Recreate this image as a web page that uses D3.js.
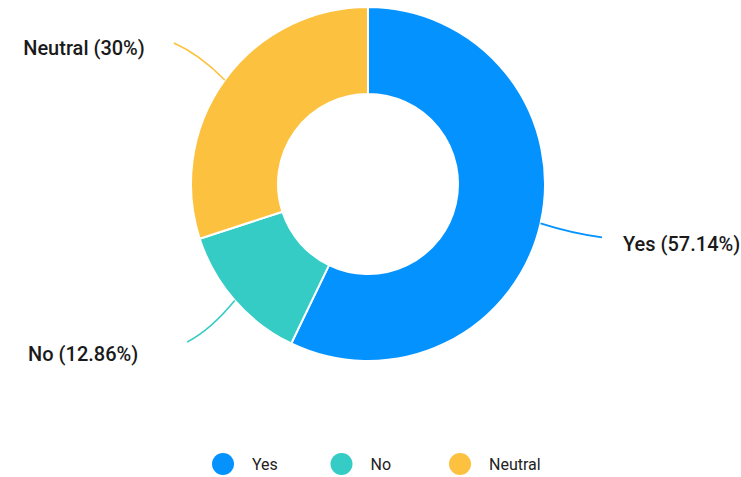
<!DOCTYPE html>
<html>
<head>
<meta charset="utf-8">
<script src="https://cdn.jsdelivr.net/npm/d3@7/dist/d3.min.js"></script>
<style>
  html, body { margin: 0; padding: 0; background: #fff; }
  svg { display: block; }
</style>
</head>
<body>
<svg id="chart" width="741" height="477"></svg>
<script>
// Survey answers and their shares (percent)
const categories = ["Yes", "No", "Neutral"];
const shares = [57.14, 12.86, 30];
const colors = ["#0492ff", "#34ccc4", "#fcc13e"];

// Layout
const W = 741, H = 477;
const cx = 368, cy = 184;
const outerR = 177, innerR = 90;
const lineEndR = 240;
// horizontal / vertical nudge of each outside label from its leader-line end
const labelNudge = { "Yes": [21, 7], "No": [-49, 12], "Neutral": [-29, 5] };

const svg = d3.select("#chart");

const data = categories.map((c, i) => ({ name: c, value: shares[i], color: colors[i] }));

const pie = d3.pie().value(d => d.value).sort(null);
const arcs = pie(data);
const arc = d3.arc().innerRadius(innerR).outerRadius(outerR);

const g = svg.append("g").attr("transform", `translate(${cx},${cy})`);

g.selectAll("path.slice")
  .data(arcs)
  .join("path")
  .attr("class", "slice")
  .attr("d", arc)
  .attr("fill", d => d.data.color)
  .attr("stroke", "#fff")
  .attr("stroke-width", 2);

// point at radius r along angle a (d3 angles: 0 at 12 o'clock, clockwise)
const polar = (a, r) => [r * Math.sin(a), -r * Math.cos(a)];

arcs.forEach(d => {
  const mid = (d.startAngle + d.endAngle) / 2;
  const p0 = polar(mid, outerR);
  const p1 = polar(mid, lineEndR);
  // control point: flattens the line as it approaches the label
  const c = [(p0[0] + p1[0]) / 2, p0[1] + (p1[1] - p0[1]) * 0.7];
  const path = d3.path();
  path.moveTo(p0[0], p0[1]);
  path.quadraticCurveTo(c[0], c[1], p1[0], p1[1]);
  g.append("path")
    .attr("d", path.toString())
    .attr("fill", "none")
    .attr("stroke", d.data.color)
    .attr("stroke-width", 1.6);

  const right = p1[0] > 0;
  const nudge = labelNudge[d.data.name];
  g.append("text")
    .attr("x", p1[0] + nudge[0])
    .attr("y", p1[1] + nudge[1])
    .attr("text-anchor", right ? "start" : "end")
    .attr("dominant-baseline", "central")
    .attr("font-family", "Roboto, 'Liberation Sans', sans-serif")
    .attr("font-weight", 500)
    .attr("font-size", 20)
    .attr("fill", "#1a1a1a")
    .text(`${d.data.name} (${d.data.value}%)`);
});

// Legend
const legendX = d3.scalePoint().domain(categories).range([223, 460]);
const legendY = 464;
const lg = svg.append("g");
const items = lg.selectAll("g.item")
  .data(data)
  .join("g")
  .attr("class", "item")
  .attr("transform", d => `translate(${legendX(d.name)},${legendY})`);
items.append("circle")
  .attr("r", 11)
  .attr("fill", d => d.color);
items.append("text")
  .attr("x", 29)
  .attr("y", 0)
  .attr("dominant-baseline", "central")
  .attr("font-family", "Roboto, 'Liberation Sans', sans-serif")
  .attr("font-size", 16)
  .attr("fill", "#222")
  .text(d => d.name);
</script>
</body>
</html>
